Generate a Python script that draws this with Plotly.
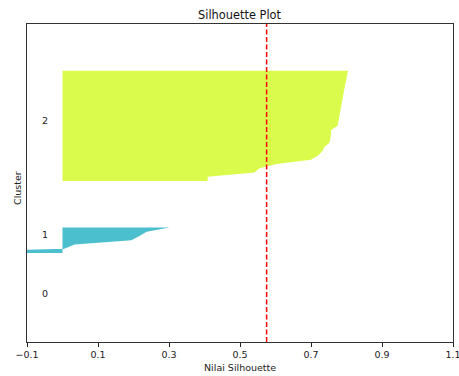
import numpy as np
import plotly.graph_objects as go

# ---- data ----
cluster_labels = ["0", "1", "2"]
cluster0_values = [0.0]
cluster1_values = [-0.40, 0.005, 0.034, 0.194, 0.217, 0.237, 0.302]
cluster2_values = [0.409, 0.409, 0.541, 0.555, 0.603, 0.700, 0.720, 0.732, 0.738,
                   0.752, 0.755, 0.756, 0.757, 0.775, 0.777, 0.779, 0.781, 0.783,
                   0.785, 0.788, 0.791, 0.793, 0.795, 0.797, 0.800, 0.802, 0.804]
silhouette_avg = 0.575
x_ticks = [-0.1, 0.1, 0.3, 0.5, 0.7, 0.9, 1.1]
cluster_colors = ["rgba(0,0,0,0.7)", "rgba(0,164,187,0.7)", "rgba(204,249,0,0.7)"]

all_values = [cluster0_values, cluster1_values, cluster2_values]
n_total = sum(len(v) for v in all_values)
n_clusters = len(all_values)

fig = go.Figure()
annotations = []
y_lower = 10
for i, vals in enumerate(all_values):
    vals = sorted(vals)
    size = len(vals)
    y_upper = y_lower + size
    ys = np.arange(y_lower, y_upper)
    fig.add_trace(go.Scatter(
        x=vals, y=ys, mode="lines", fill="tozerox",
        fillcolor=cluster_colors[i], line=dict(width=0, color=cluster_colors[i]),
        showlegend=False, hoverinfo="skip"))
    annotations.append(dict(x=-0.05, y=y_lower + 0.5 * size, xref="x", yref="y",
                            text=cluster_labels[i], showarrow=False,
                            font=dict(size=9.5, color="#222"),
                            yanchor="middle", yshift=3.5))
    y_lower = y_upper + 10

fig.add_shape(type="line", x0=silhouette_avg, x1=silhouette_avg, y0=0, y1=1,
              xref="x", yref="paper",
              line=dict(color="red", width=1.5, dash="5px,2.5px"))

annotations.append(dict(x=0.5, y=1, xref="paper", yref="paper", yshift=9,
                        text="Silhouette Plot", showarrow=False,
                        font=dict(size=11.4, color="#111"), yanchor="middle"))
annotations.append(dict(x=0.5, y=0, xref="paper", yref="paper", yshift=-25,
                        text="Nilai Silhouette", showarrow=False,
                        font=dict(size=9.5, color="#222"), yanchor="middle"))
annotations.append(dict(x=0, y=0.5, xref="paper", yref="paper", xshift=-10, yshift=-5,
                        text="Cluster", showarrow=False, textangle=-90,
                        font=dict(size=9.5, color="#222"), xanchor="center"))

fig.update_layout(
    width=459, height=376,
    margin=dict(l=27, r=6, t=24, b=34, autoexpand=False),
    plot_bgcolor="white", paper_bgcolor="white",
    font=dict(family="DejaVu Sans", size=9.5, color="#222"),
    annotations=annotations,
    showlegend=False,
)
fig.update_xaxes(range=[-0.1, 1.1], tickvals=x_ticks,
                 ticktext=[("\u2212" if t < 0 else "") + f"{abs(t):.1f}" for t in x_ticks],
                 ticks="outside", ticklen=3.5, tickwidth=0.8, tickcolor="#222",
                 ticklabeloverflow="allow", automargin=False,
                 showline=True, linecolor="#333", linewidth=1, mirror=True,
                 showgrid=False, zeroline=False)
fig.update_yaxes(range=[0, n_total + (n_clusters + 1) * 10], showticklabels=False,
                 automargin=False,
                 ticks="", showline=True, linecolor="#333", linewidth=1, mirror=True,
                 showgrid=False, zeroline=False)

fig.write_html("out.html", config={"displayModeBar": False},
               post_script="document.body.style.margin='0px';document.body.style.overflow='hidden';")
